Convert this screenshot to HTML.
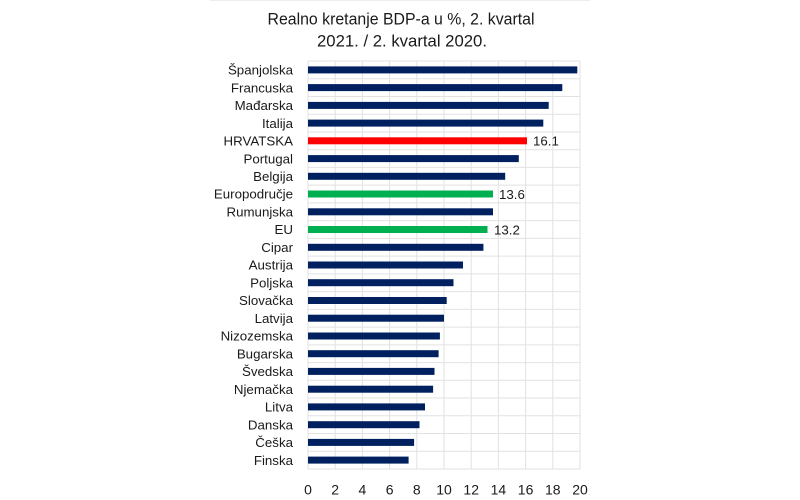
<!DOCTYPE html>
<html><head><meta charset="utf-8"><style>
html,body{margin:0;padding:0;background:#fff;}
svg{display:block;}
text{font-family:"Liberation Sans",sans-serif;fill:#1a1a1a;}
</style></head><body>
<svg width="800" height="500" viewBox="0 0 800 500" xmlns="http://www.w3.org/2000/svg">
<rect width="800" height="500" fill="#fff"/>
<line x1="210" y1="0.5" x2="590" y2="0.5" stroke="#eeeeee" stroke-width="1"/>
<text x="401" y="24.5" font-size="16.5" text-anchor="middle" textLength="267" lengthAdjust="spacingAndGlyphs">Realno kretanje BDP-a u %, 2. kvartal</text>
<text x="402" y="46.5" font-size="16.5" text-anchor="middle" textLength="170" lengthAdjust="spacingAndGlyphs">2021. / 2. kvartal 2020.</text>
<g stroke="#e2e2e2" stroke-width="1">
<line x1="308" y1="61" x2="580" y2="61"/><line x1="308" y1="78.74" x2="580" y2="78.74"/><line x1="308" y1="96.48" x2="580" y2="96.48"/><line x1="308" y1="114.22" x2="580" y2="114.22"/><line x1="308" y1="131.96" x2="580" y2="131.96"/><line x1="308" y1="149.7" x2="580" y2="149.7"/><line x1="308" y1="167.43" x2="580" y2="167.43"/><line x1="308" y1="185.17" x2="580" y2="185.17"/><line x1="308" y1="202.91" x2="580" y2="202.91"/><line x1="308" y1="220.65" x2="580" y2="220.65"/><line x1="308" y1="238.39" x2="580" y2="238.39"/><line x1="308" y1="256.13" x2="580" y2="256.13"/><line x1="308" y1="273.87" x2="580" y2="273.87"/><line x1="308" y1="291.61" x2="580" y2="291.61"/><line x1="308" y1="309.35" x2="580" y2="309.35"/><line x1="308" y1="327.09" x2="580" y2="327.09"/><line x1="308" y1="344.83" x2="580" y2="344.83"/><line x1="308" y1="362.57" x2="580" y2="362.57"/><line x1="308" y1="380.3" x2="580" y2="380.3"/><line x1="308" y1="398.04" x2="580" y2="398.04"/><line x1="308" y1="415.78" x2="580" y2="415.78"/><line x1="308" y1="433.52" x2="580" y2="433.52"/><line x1="308" y1="451.26" x2="580" y2="451.26"/><line x1="308" y1="469" x2="580" y2="469"/>
<line x1="308" y1="61" x2="308" y2="469"/><line x1="335.2" y1="61" x2="335.2" y2="469"/><line x1="362.4" y1="61" x2="362.4" y2="469"/><line x1="389.6" y1="61" x2="389.6" y2="469"/><line x1="416.8" y1="61" x2="416.8" y2="469"/><line x1="444" y1="61" x2="444" y2="469"/><line x1="471.2" y1="61" x2="471.2" y2="469"/><line x1="498.4" y1="61" x2="498.4" y2="469"/><line x1="525.6" y1="61" x2="525.6" y2="469"/><line x1="552.8" y1="61" x2="552.8" y2="469"/><line x1="580" y1="61" x2="580" y2="469"/>
</g>
<g fill="#002060">
<rect x="308" y="66.4" width="269.3" height="7"/>
<rect x="308" y="84.1" width="254.3" height="7"/>
<rect x="308" y="101.9" width="240.7" height="7"/>
<rect x="308" y="119.6" width="235.3" height="7"/>
<rect x="308" y="137.3" width="219" height="7" fill="#ff0000"/>
<rect x="308" y="155.1" width="210.8" height="7"/>
<rect x="308" y="172.8" width="197.2" height="7"/>
<rect x="308" y="190.5" width="185" height="7" fill="#00b050"/>
<rect x="308" y="208.3" width="185" height="7"/>
<rect x="308" y="226" width="179.5" height="7" fill="#00b050"/>
<rect x="308" y="243.8" width="175.4" height="7"/>
<rect x="308" y="261.5" width="155" height="7"/>
<rect x="308" y="279.2" width="145.5" height="7"/>
<rect x="308" y="297" width="138.7" height="7"/>
<rect x="308" y="314.7" width="136" height="7"/>
<rect x="308" y="332.5" width="131.9" height="7"/>
<rect x="308" y="350.2" width="130.6" height="7"/>
<rect x="308" y="367.9" width="126.5" height="7"/>
<rect x="308" y="385.7" width="125.1" height="7"/>
<rect x="308" y="403.4" width="117" height="7"/>
<rect x="308" y="421.2" width="111.5" height="7"/>
<rect x="308" y="438.9" width="106.1" height="7"/>
<rect x="308" y="456.6" width="100.6" height="7"/>
</g>
<g font-size="13.3" text-anchor="end">
<text x="293" y="74.6">Španjolska</text>
<text x="293" y="92.3">Francuska</text>
<text x="293" y="110.1">Mađarska</text>
<text x="293" y="127.8">Italija</text>
<text x="293" y="145.5">HRVATSKA</text>
<text x="293" y="163.3">Portugal</text>
<text x="293" y="181">Belgija</text>
<text x="293" y="198.7">Europodručje</text>
<text x="293" y="216.5">Rumunjska</text>
<text x="293" y="234.2">EU</text>
<text x="293" y="252">Cipar</text>
<text x="293" y="269.7">Austrija</text>
<text x="293" y="287.4">Poljska</text>
<text x="293" y="305.2">Slovačka</text>
<text x="293" y="322.9">Latvija</text>
<text x="293" y="340.7">Nizozemska</text>
<text x="293" y="358.4">Bugarska</text>
<text x="293" y="376.1">Švedska</text>
<text x="293" y="393.9">Njemačka</text>
<text x="293" y="411.6">Litva</text>
<text x="293" y="429.4">Danska</text>
<text x="293" y="447.1">Češka</text>
<text x="293" y="464.8">Finska</text>
</g>
<g font-size="13.3">
<text x="533" y="145.6">16.1</text>
<text x="499" y="198.8">13.6</text>
<text x="494" y="234.3">13.2</text>
</g>
<g font-size="14" text-anchor="middle">
<text x="308" y="494.5">0</text>
<text x="335.2" y="494.5">2</text>
<text x="362.4" y="494.5">4</text>
<text x="389.6" y="494.5">6</text>
<text x="416.8" y="494.5">8</text>
<text x="444" y="494.5">10</text>
<text x="471.2" y="494.5">12</text>
<text x="498.4" y="494.5">14</text>
<text x="525.6" y="494.5">16</text>
<text x="552.8" y="494.5">18</text>
<text x="580" y="494.5">20</text>
</g>
</svg>
</body></html>
